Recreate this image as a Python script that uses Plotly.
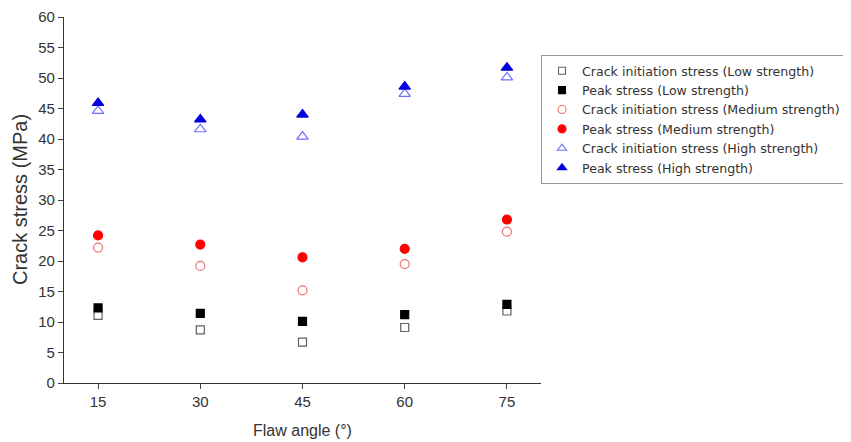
import plotly.graph_objects as go

angles = [15, 30, 45, 60, 75]
ci_low = [11.1, 8.7, 6.7, 9.1, 11.8]
peak_low = [12.3, 11.4, 10.1, 11.2, 12.9]
ci_med = [22.2, 19.2, 15.2, 19.5, 24.8]
peak_med = [24.2, 22.7, 20.6, 22.0, 26.8]
ci_high = [44.6, 41.6, 40.4, 47.4, 50.1]
peak_high = [45.9, 43.2, 44.0, 48.6, 51.7]

series = [
    ("Crack initiation stress (Low strength)", ci_low, "square-open", "#606060", 8, 7),
    ("Peak stress (Low strength)", peak_low, "square", "#000000", 8, 7),
    ("Crack initiation stress (Medium strength)", ci_med, "circle-open", "#f07070", 9, 8),
    ("Peak stress (Medium strength)", peak_med, "circle", "#ff0000", 9, 8),
    ("Crack initiation stress (High strength)", ci_high, "triangle-up-open", "#6e6eff", 10, 8),
    ("Peak stress (High strength)", peak_high, "triangle-up", "#0000e0", 10, 8),
]

fig = go.Figure()
for name, vals, sym, col, sz, lsz in series:
    fig.add_trace(go.Scatter(
        x=angles, y=vals, mode="markers", name=name, showlegend=False,
        marker=dict(symbol=sym, color=col, size=sz, line=dict(color=col, width=1.2)),
    ))
    # legend entry (smaller marker, as in the reference legend)
    fig.add_trace(go.Scatter(
        x=[None], y=[None], mode="markers", name=name, showlegend=True,
        marker=dict(symbol=sym, color=col, size=lsz, line=dict(color=col, width=1.1)),
    ))

fig.update_layout(
    width=851, height=442,
    margin=dict(l=56, r=318, t=9, b=67),
    paper_bgcolor="white", plot_bgcolor="white",
    font=dict(family="Liberation Sans, Arial, sans-serif", size=14, color="#333333"),
    showlegend=True,
    legend=dict(x=1.0, xanchor="left", y=0.896, yanchor="top",
                bordercolor="#999999", borderwidth=1, bgcolor="white",
                font=dict(family="DejaVu Sans, Liberation Sans, sans-serif",
                          size=12.6, color="#333333"), itemsizing="trace",
                tracegroupgap=0),
    xaxis=dict(range=[10, 80], tickvals=angles, ticks="outside", ticklen=5,
               automargin=False,
               showline=True, linecolor="#333333", linewidth=1.3, showgrid=False, zeroline=False,
               tickfont=dict(size=15)),
    yaxis=dict(range=[0, 60], dtick=5, ticks="outside", ticklen=5,
               automargin=False,
               showline=True, linecolor="#333333", linewidth=1.3, showgrid=False, zeroline=False,
               tickfont=dict(size=15)),
    annotations=[
        dict(text="Flaw angle (°)", xref="paper", yref="paper", x=0.5, y=0,
             yshift=-47, xanchor="center", yanchor="middle", showarrow=False,
             font=dict(size=16, color="#333333")),
        dict(text="Crack stress (MPa)", xref="paper", yref="paper", x=0, y=0.5,
             xshift=-44, xanchor="center", yanchor="middle", textangle=-90,
             showarrow=False, font=dict(size=20, color="#333333")),
    ],
)

fig.write_html("out.html")
